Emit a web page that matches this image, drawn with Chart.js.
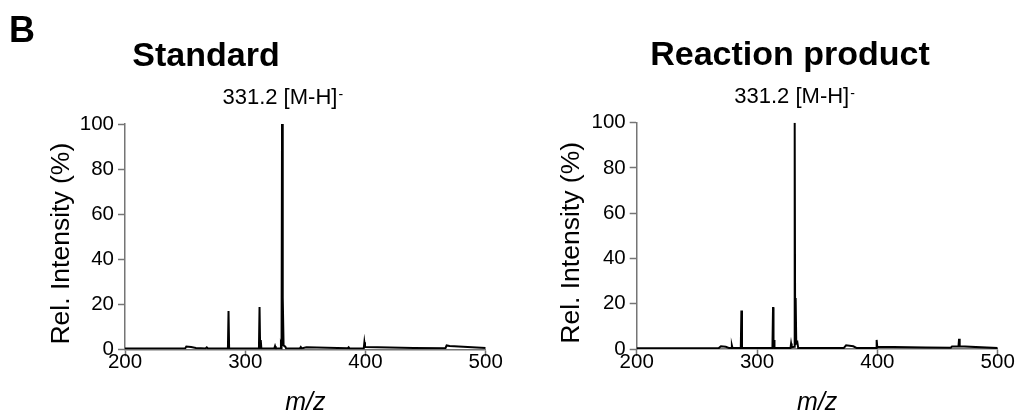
<!DOCTYPE html>
<html><head><meta charset="utf-8">
<script src="https://cdn.jsdelivr.net/npm/chart.js@4.4.1/dist/chart.umd.min.js"></script>
<style>
html,body{margin:0;padding:0;background:#fff;width:1015px;height:418px;overflow:hidden;font-family:"Liberation Sans",Arial,sans-serif;}
.box{position:absolute;top:0;height:418px;}
#b1{left:0;width:507px}
#b2{left:507px;width:508px}
.t{position:absolute;font-weight:bold;color:#000;white-space:nowrap;text-align:center;z-index:2;}
</style></head><body>
<div class="t" style="left:9px;top:11.5px;font-size:36px;line-height:36px;text-align:left">B</div>
<div class="t" style="left:56px;width:300px;top:37px;font-size:34px;line-height:34px">Standard</div>
<div class="t" style="left:640px;width:300px;top:36px;font-size:34px;line-height:34px">Reaction product</div>
<div class="box" id="b1"><canvas id="c1"></canvas></div>
<div class="box" id="b2"><canvas id="c2"></canvas></div>
<script>
// ---- data ----
const stdMz  = [200,250,251,255,259, 267,268,269, 285.6,286.1,286.6, 311.4,311.9,312.4,312.9,313.4, 324.2,324.8,325.4, 329.2,329.7,330.2,330.6,331.0,331.4,331.9,332.6,333.3,334.0, 345.5,346.2,346.9, 350,351, 385.3,386,386.7, 398.6,399.1,399.6,400.2, 440, 466.5,467.5,470, 500];
const stdInt = [0.3,0.3,1.2,1.0,0.6, 0.4,0.9,0.4, 0.4,17,0.4, 0.4,18.8,0.6,4.1,0.4, 0.4,1.4,0.4, 0.4,1.6,0.6,100,1.5,23,1.8,1.4,1.2,0.4, 0.4,1.0,0.4, 0.8,0.9, 0.5,0.9,0.4, 0.4,3.1,1.0,1.0, 0.6, 0.5,1.7,1.5, 0.6];
const rxnMz  = [200,268,270,274,277, 278.6,279.1,279.6, 286.5,287.0,287.5, 312.8,313.3,313.7,314.1,314.5, 327.8,328.3,328.8, 330.8,331.3,331.7,332.1,332.6,333.5,334.2, 372,374,380,383, 398.9,399.4,399.9,400.5, 440, 461,462, 467.4,467.9,468.4, 500];
const rxnInt = [0.3,0.3,1.2,1.0,0.4, 0.4,1.5,0.4, 0.4,17,0.4, 0.4,18.5,0.6,4.0,0.4, 0.4,2.4,0.8, 1.0,100,2.5,22.5,2.5,3.0,0.4, 0.4,1.6,1.2,0.4, 0.4,4.0,1.0,1.0, 0.7, 0.6,1.1, 1.1,4.5,1.2, 0.4];
const xTickValues = [200,300,400,500];
const yTickValues = [0,20,40,60,80,100];
const peakMz = 331.2;
const peakText = '331.2 [M-H]';
const peakSup = '-';
const xTitle = 'm/z';
const yTitle = 'Rel. Intensity (%)';

const FONT = '"Liberation Sans", Arial, sans-serif';
const AXIS = '#757575';

const peakLabel = {
  id: 'peakLabel',
  afterDraw(chart, args, opts) {
    const {ctx, chartArea} = chart;
    const x = chart.scales.x.getPixelForValue(opts.value);
    const y = chartArea.top - opts.gap;
    ctx.save();
    ctx.fillStyle = '#000';
    ctx.textAlign = 'left';
    ctx.textBaseline = 'alphabetic';
    ctx.font = '22px ' + FONT;
    const w1 = ctx.measureText(opts.text).width;
    ctx.font = '14px ' + FONT;
    const w2 = ctx.measureText(opts.sup).width;
    const start = x - (w1 + w2 + 1) / 2;
    ctx.font = '22px ' + FONT;
    ctx.fillText(opts.text, start, y);
    ctx.font = '14px ' + FONT;
    ctx.fillText(opts.sup, start + w1 + 1, y - 5);
    ctx.restore();
  }
};

const yAxisTitle = {
  id: 'yAxisTitle',
  afterDraw(chart, args, opts) {
    const {ctx, chartArea} = chart;
    ctx.save();
    ctx.translate(opts.x, (chartArea.top + chartArea.bottom) / 2 + opts.dy);
    ctx.rotate(-Math.PI / 2);
    ctx.fillStyle = '#000';
    ctx.textAlign = 'center';
    ctx.textBaseline = 'middle';
    ctx.font = '26.5px ' + FONT;
    ctx.fillText(opts.text, 0, 0);
    ctx.restore();
  }
};

function makeChart(id, mz, inten, L) {
  const pts = mz.map((m, i) => ({x: m, y: inten[i]}));
  return new Chart(document.getElementById(id), {
    type: 'line',
    data: { datasets: [{ data: pts, borderColor: '#000', borderWidth: 2, pointRadius: 0, tension: 0, fill: false }] },
    plugins: [peakLabel, yAxisTitle],
    options: {
      responsive: true, maintainAspectRatio: false, animation: false,
      layout: { padding: { left: L.padLeft, right: L.padRight, top: L.padTop, bottom: 0 } },
      plugins: {
        legend: { display: false }, tooltip: { enabled: false }, title: { display: false },
        peakLabel: { value: peakMz, text: peakText, sup: peakSup, gap: 20 },
        yAxisTitle: { text: yTitle, x: L.yTitleX, dy: 7 }
      },
      scales: {
        x: {
          type: 'linear', min: 200, max: 500,
          afterBuildTicks: s => { s.ticks = xTickValues.map(v => ({value: v})); },
          afterFit: s => { s.height = L.xHeight; s.paddingLeft = 0; s.paddingRight = 0; },
          border: { display: true, color: AXIS, width: 1.5 },
          grid: { display: true, drawOnChartArea: false, drawTicks: true, tickLength: 7, tickColor: AXIS, tickWidth: 1.5 },
          ticks: { color: '#000', font: { family: FONT, size: 20.5 }, padding: -6, maxRotation: 0 },
          title: { display: true, text: xTitle, color: '#000', font: { family: FONT, size: 25, style: 'italic' }, padding: { top: 0, bottom: 0 } }
        },
        y: {
          min: 0, max: 100,
          afterBuildTicks: s => { s.ticks = yTickValues.map(v => ({value: v})); },
          afterFit: s => { s.width = L.yWidth; s.paddingTop = 0; s.paddingBottom = 0; },
          border: { display: true, color: AXIS, width: 1.5 },
          grid: { display: true, drawOnChartArea: false, drawTicks: true, tickLength: 7, tickColor: AXIS, tickWidth: 1.5 },
          ticks: { color: '#000', font: { family: FONT, size: 20.5 }, padding: 4 },
          title: { display: false }
        }
      }
    }
  });
}

makeChart('c1', stdMz, stdInt, { padLeft: 46.5, yWidth: 78.5, padRight: 21.3, padTop: 124, xHeight: 68.7, yTitleX: 61.5 });
makeChart('c2', rxnMz, rxnInt, { padLeft: 50, yWidth: 79.7, padRight: 17.3, padTop: 122.7, xHeight: 69, yTitleX: 65 });
</script>
</body></html>
